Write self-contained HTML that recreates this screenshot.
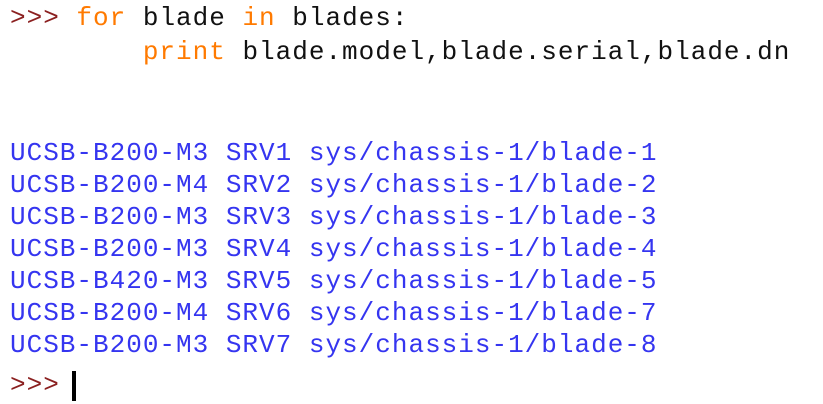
<!DOCTYPE html>
<html><head><style>
html,body{margin:0;padding:0;background:#fff;width:823px;height:404px;overflow:hidden}
.l{position:absolute;left:10px;font-family:"Liberation Mono",monospace;font-size:26px;letter-spacing:1px;line-height:32px;white-space:pre;color:#111}
.p{color:#8b2020}.k{color:#ff7a00}.o{color:#3535f0}
.cur{position:absolute;left:72px;top:371px;width:4px;height:30px;background:#000}
</style></head><body>
<div class="l" style="top:2px"><span class="p">&gt;&gt;&gt;</span> <span class="k">for</span> blade <span class="k">in</span> blades:</div>
<div class="l" style="top:36px">        <span class="k">print</span> blade.model,blade.serial,blade.dn</div>
<div class="l o" style="top:137px">UCSB-B200-M3 SRV1 sys/chassis-1/blade-1</div>
<div class="l o" style="top:169px">UCSB-B200-M4 SRV2 sys/chassis-1/blade-2</div>
<div class="l o" style="top:201px">UCSB-B200-M3 SRV3 sys/chassis-1/blade-3</div>
<div class="l o" style="top:233px">UCSB-B200-M3 SRV4 sys/chassis-1/blade-4</div>
<div class="l o" style="top:265px">UCSB-B420-M3 SRV5 sys/chassis-1/blade-5</div>
<div class="l o" style="top:297px">UCSB-B200-M4 SRV6 sys/chassis-1/blade-7</div>
<div class="l o" style="top:329px">UCSB-B200-M3 SRV7 sys/chassis-1/blade-8</div>
<div class="l" style="top:369px"><span class="p">&gt;&gt;&gt;</span></div>
<div class="cur"></div>
</body></html>
